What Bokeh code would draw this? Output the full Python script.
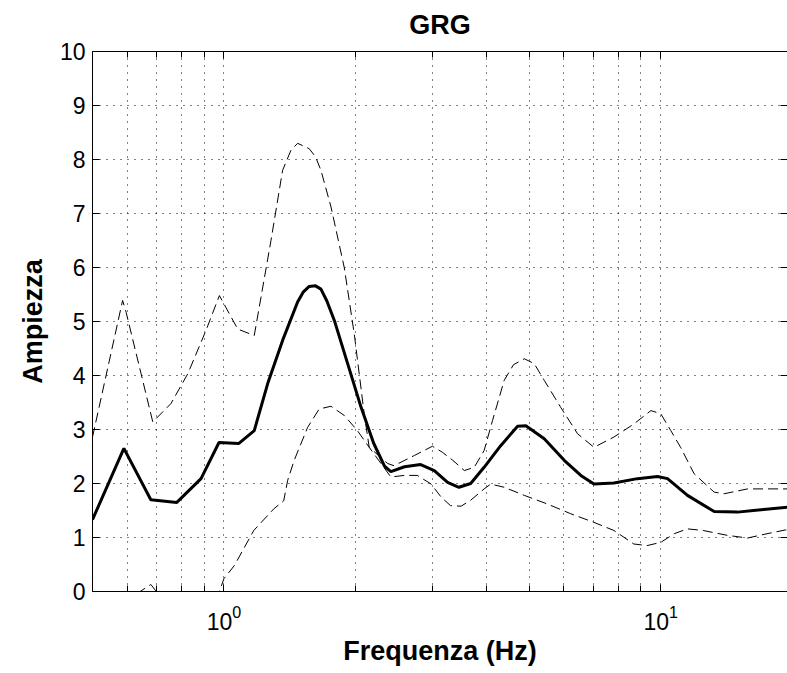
from bokeh.plotting import figure
from bokeh.models import (LogAxis, LinearAxis, FixedTicker, SingleIntervalTicker,
                          Range1d)
from bokeh.embed import file_html
from bokeh.resources import INLINE

# ---- data ----
freq_mean = [0.5, 0.59, 0.68, 0.78, 0.886, 0.974, 1.08, 1.173, 1.259, 1.362, 1.474,
             1.52, 1.567, 1.62, 1.667, 1.72, 1.789, 1.919, 2.06, 2.2, 2.33, 2.41,
             2.59, 2.82, 3.03, 3.25, 3.45, 3.67, 3.94, 4.30, 4.70, 4.91, 5.41, 6.01,
             6.56, 7.03, 7.81, 8.84, 9.83, 10.36, 11.51, 13.25, 14.98, 17.2, 19.5,
             20.0]
amp_mean = [1.33, 2.65, 1.70, 1.65, 2.09, 2.76, 2.74, 2.98, 3.85, 4.65, 5.36,
            5.55, 5.65, 5.66, 5.60, 5.38, 5.02, 4.22, 3.41, 2.75, 2.32, 2.22,
            2.31, 2.35, 2.24, 2.02, 1.93, 2.00, 2.30, 2.70, 3.06, 3.07, 2.83, 2.43,
            2.15, 1.99, 2.01, 2.09, 2.13, 2.09, 1.78, 1.48, 1.47, 1.52, 1.56,
            1.57]

freq_upper = [0.5, 0.586, 0.597, 0.646, 0.687, 0.756, 0.826, 0.909, 0.976, 1.075,
              1.173, 1.281, 1.362, 1.423, 1.474, 1.567, 1.62, 1.667, 1.758, 1.885,
              1.987, 2.094, 2.15, 2.37, 2.45, 2.73, 3.0, 3.16, 3.34, 3.55, 3.74,
              3.94, 4.12, 4.38, 4.6, 4.87, 5.13, 5.41, 5.90, 6.45, 7.03, 7.81, 8.67,
              9.49, 10.0, 10.54, 11.1, 11.92, 13.25, 13.96, 15.8, 18.8, 20.0]
amp_upper = [2.86, 5.39, 5.17, 4.03, 3.14, 3.48, 4.03, 4.83, 5.48, 4.86,
             4.74, 6.5, 7.80, 8.17, 8.30, 8.20, 8.05, 7.80, 7.12, 6.0,
             4.77, 3.29, 2.67, 2.37, 2.33, 2.52, 2.69, 2.58, 2.43, 2.24, 2.30,
             2.61, 3.17, 3.91, 4.2, 4.31, 4.22, 3.91, 3.41, 2.92, 2.67, 2.86, 3.10,
             3.35, 3.29, 2.98, 2.67, 2.18, 1.84, 1.81, 1.90, 1.90, 1.90]

freq_lower = [0.5, 0.59, 0.64, 0.68, 0.70, 0.78, 0.886, 0.976, 1.0, 1.056, 1.17,
              1.30, 1.37, 1.399, 1.448, 1.554, 1.652, 1.758, 1.885, 2.02, 2.15, 2.41,
              2.586, 2.77, 2.98, 3.14, 3.30, 3.49, 3.67, 3.94, 4.08, 4.38, 4.87, 5.5,
              6.22, 7.03, 7.81, 8.67, 9.3, 10.0, 10.73, 11.5, 12.5, 14.2, 15.8, 17.5,
              19.3, 20.0]
amp_lower = [-0.2, -0.1, -0.01, 0.13, 0.0, -0.25, -0.3, 0.0, 0.24, 0.48, 1.13,
             1.53, 1.68, 2.06, 2.43, 3.04, 3.38, 3.43, 3.26, 2.98, 2.67, 2.12,
             2.15, 2.15, 1.99, 1.75, 1.59, 1.58, 1.69, 1.90, 1.99, 1.93, 1.78, 1.62,
             1.44, 1.28, 1.13, 0.88, 0.85, 0.91, 1.07, 1.16, 1.13, 1.04, 0.99, 1.07,
             1.14, 1.15]

x_major = [1, 10]
x_minor = [0.5, 0.6, 0.7, 0.8, 0.9, 2, 3, 4, 5, 6, 7, 8, 9, 20]

title_text = "GRG"
x_label = "Frequenza (Hz)"
y_label = "Ampiezza"

FONT = "Liberation Sans"

p = figure(width=787, height=670, x_axis_type="log",
           x_range=Range1d(0.5, 19.5), y_range=Range1d(0, 10),
           output_backend="svg", toolbar_location=None,
           min_border_left=92, min_border_right=0, min_border_top=51,
           min_border_bottom=79, background_fill_color="white",
           border_fill_color="white")

p.outline_line_color = None

# title
p.title.text = title_text
p.title.align = "center"
p.title.vertical_align = "top"
p.title.text_font = FONT
p.title.text_font_size = "27px"
p.title.text_font_style = "bold"
p.title.text_color = "black"
p.title.standoff = 19

xt = FixedTicker(ticks=x_major, minor_ticks=x_minor)
yt = SingleIntervalTicker(interval=1, num_minor_ticks=0)

# bottom axis
xa = p.xaxis[0]
xa.ticker = xt
xa.axis_label = x_label
xa.axis_label_text_font = FONT
xa.axis_label_text_font_size = "27px"
xa.axis_label_text_font_style = "bold"
xa.axis_label_text_color = "black"
xa.axis_label_standoff = 3
xa.major_label_text_font = FONT
xa.major_label_text_font_size = "23px"
xa.major_label_text_color = "black"
xa.major_label_standoff = 13
xa.major_tick_in = 7
xa.major_tick_out = 0
xa.minor_tick_in = 6
xa.minor_tick_out = 0
xa.axis_line_color = "black"
xa.major_tick_line_color = "black"
xa.minor_tick_line_color = "black"

# left axis
ya = p.yaxis[0]
ya.ticker = yt
ya.axis_label = y_label
ya.axis_label_text_font = FONT
ya.axis_label_text_font_size = "27px"
ya.axis_label_text_font_style = "bold"
ya.axis_label_text_color = "black"
ya.axis_label_standoff = 9
ya.major_label_text_font = FONT
ya.major_label_text_font_size = "23px"
ya.major_label_text_color = "black"
ya.major_label_standoff = 7
ya.major_tick_in = 7
ya.major_tick_out = 0
ya.minor_tick_line_color = None
ya.axis_line_color = "black"

# top axis (ticks only)
top = LogAxis(ticker=xt, major_label_text_font_size="0px", major_label_standoff=0,
              major_tick_in=7, major_tick_out=0, minor_tick_in=6, minor_tick_out=0,
              axis_line_color="black", major_label_text_alpha=0)
p.add_layout(top, "above")

# right axis (ticks only)
right = LinearAxis(ticker=yt, major_label_text_font_size="0px", major_label_standoff=0,
                   major_tick_in=7, major_tick_out=0, minor_tick_line_color=None,
                   axis_line_color=None, major_label_text_alpha=0)
p.add_layout(right, "right")

# grids
p.xgrid.ticker = xt
p.ygrid.ticker = yt
for g in (p.xgrid[0], p.ygrid[0]):
    g.grid_line_color = "black"
    g.grid_line_dash = "1 6"
    g.grid_line_width = 1
p.xgrid[0].minor_grid_line_color = "black"
p.xgrid[0].minor_grid_line_dash = "1 6"
p.xgrid[0].minor_grid_line_width = 1

# curves
p.line(freq_upper, amp_upper, line_color="black", line_width=1, line_dash="10 5")
p.line(freq_lower, amp_lower, line_color="black", line_width=1, line_dash="10 5")
p.line(freq_mean, amp_mean, line_color="black", line_width=3)

open("out.html", "w").write(file_html(p, INLINE))
